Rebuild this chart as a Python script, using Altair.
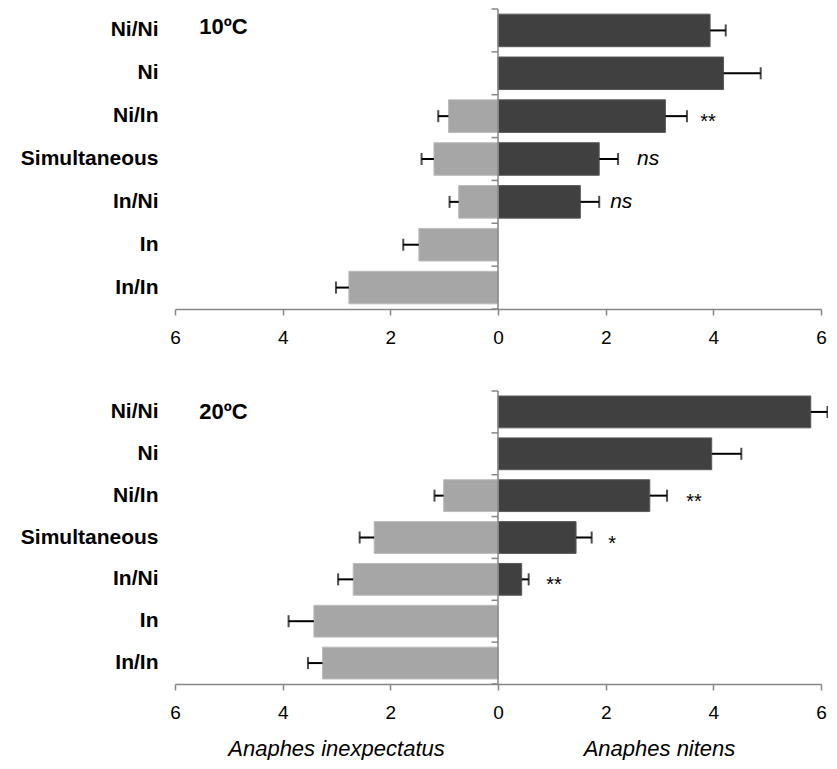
import altair as alt
import pandas as pd

categories = ["Ni/Ni", "Ni", "Ni/In", "Simultaneous", "In/Ni", "In", "In/In"]

# 10 ºC
t10_nitens = [3.94, 4.19, 3.11, 1.88, 1.53, 0, 0]
t10_nitens_err = [0.29, 0.69, 0.40, 0.35, 0.35, 0, 0]
t10_inexp = [0, 0, 0.92, 1.19, 0.73, 1.47, 2.77]
t10_inexp_err = [0, 0, 0.19, 0.23, 0.17, 0.29, 0.24]
t10_ann_cat = ["Ni/In", "Simultaneous", "In/Ni"]
t10_ann_x = [3.90, 2.79, 2.29]
t10_ann_text = ["**", "ns", "ns"]

# 20 ºC
t20_nitens = [5.81, 3.97, 2.82, 1.45, 0.44, 0, 0]
t20_nitens_err = [0.31, 0.55, 0.32, 0.29, 0.13, 0, 0]
t20_inexp = [0, 0, 1.01, 2.30, 2.69, 3.42, 3.26]
t20_inexp_err = [0, 0, 0.17, 0.27, 0.28, 0.47, 0.27]
t20_ann_cat = ["Ni/In", "Simultaneous", "In/Ni"]
t20_ann_x = [3.64, 2.12, 1.04]
t20_ann_text = ["**", "*", "**"]

x_ticks = [-6, -4, -2, 0, 2, 4, 6]
species_titles = ["Anaphes inexpectatus", "Anaphes nitens"]
species_title_x = [-3, 3]

FONT = "Liberation Sans"
AXIS_GRAY = "#868686"
W = 646
EXT = 167


def panel(nit, nit_err, inx, inx_err, ann_cat, ann_x, ann_text, label, label_y, h, bottom):
    rows = []
    for i, c in enumerate(categories):
        if nit[i] > 0:
            rows.append(dict(cat=c, v=nit[i], e=nit[i] + nit_err[i], sp="nitens"))
        if inx[i] > 0:
            rows.append(dict(cat=c, v=-inx[i], e=-(inx[i] + inx_err[i]), sp="inexp"))
    df = pd.DataFrame(rows)
    ann = pd.DataFrame(dict(cat=ann_cat, x=ann_x, t=ann_text))
    ann["italic"] = ann["t"] == "ns"

    xscale = alt.Scale(domain=[-6, 6], nice=False, zero=False)
    xaxis = alt.Axis(
        values=x_ticks, labelExpr="abs(datum.value)", title=None, grid=False,
        tickSize=6, tickColor=AXIS_GRAY, domainColor=AXIS_GRAY, domainWidth=1.5,
        tickWidth=1.5, labelFontSize=19, labelFont=FONT, labelColor="black",
        labelPadding=13, labelFlush=False,
    )
    yscale = alt.Scale(domain=categories, paddingInner=0.24, paddingOuter=0.12)
    yaxis = alt.Axis(
        title=None, domain=False, ticks=False, labelFontSize=21,
        labelFontWeight="bold", labelFont=FONT, labelColor="black",
        labelPadding=17, minExtent=EXT, maxExtent=EXT,
    )
    ycat = alt.Y("cat:N", sort=categories, scale=yscale, axis=yaxis)

    bars = alt.Chart(df).mark_bar(strokeWidth=1).encode(
        x=alt.X("v:Q", scale=xscale, axis=xaxis),
        y=ycat,
        color=alt.Color("sp:N", scale=alt.Scale(domain=["nitens", "inexp"],
                                                range=["#404040", "#a6a6a6"]), legend=None),
        stroke=alt.Stroke("sp:N", scale=alt.Scale(domain=["nitens", "inexp"],
                                                  range=["#5a5a5a", "#bcbcbc"]), legend=None),
    )
    err = alt.Chart(df).mark_rule(color="black", strokeWidth=2).encode(
        x="v:Q", x2="e:Q", y=ycat)
    caps = alt.Chart(df).mark_tick(color="black", thickness=2, size=12).encode(
        x="e:Q", y=ycat)

    star = alt.Chart(ann).transform_filter("!datum.italic").mark_text(
        font=FONT, fontSize=20, color="black", baseline="middle", dy=6).encode(
        x="x:Q", y=ycat, text="t:N")
    ns = alt.Chart(ann).transform_filter("datum.italic").mark_text(
        font=FONT, fontSize=21, fontStyle="italic", color="black", baseline="middle").encode(
        x="x:Q", y=ycat, text="t:N")

    lab = alt.Chart(pd.DataFrame(dict(t=[label]))).mark_text(
        font=FONT, fontSize=22, fontWeight="bold", align="left", baseline="middle",
        color="black").encode(x=alt.datum(-5.55), y=alt.value(label_y), text="t:N")

    main_layers = [bars, err, caps, star, ns, lab]
    if bottom:
        tt = pd.DataFrame(dict(t=species_titles, x=species_title_x))
        titles = alt.Chart(tt).mark_text(
            font=FONT, fontSize=22, fontStyle="italic", color="black",
            baseline="alphabetic").encode(x="x:Q", y=alt.value(h + 72), text="t:N")
        main_layers.append(titles)
    main = alt.layer(*main_layers)

    # zero line with boundary ticks
    bnd = pd.DataFrame(dict(b=list(range(len(categories) + 1))))
    qy = alt.Scale(domain=[0, len(categories)], nice=False, zero=False)
    zero_ticks = alt.Chart(bnd).mark_rule(color=AXIS_GRAY, strokeWidth=1.5).encode(
        x=alt.datum(-0.12), x2=alt.datum(0),
        y=alt.Y("b:Q", scale=qy, axis=None))
    zero_line = alt.Chart(bnd).transform_filter("datum.b == 0").mark_rule(
        color=AXIS_GRAY, strokeWidth=1.5).encode(
        x=alt.datum(0), y=alt.Y("b:Q", scale=qy, axis=None), y2=alt.datum(len(categories)))
    zero = alt.layer(zero_ticks, zero_line)

    return alt.layer(main, zero).resolve_scale(y="independent").properties(width=W, height=h)


top = panel(t10_nitens, t10_nitens_err, t10_inexp, t10_inexp_err,
            t10_ann_cat, t10_ann_x, t10_ann_text, "10ºC", 18, 300, False)
bot = panel(t20_nitens, t20_nitens_err, t20_inexp, t20_inexp_err,
            t20_ann_cat, t20_ann_x, t20_ann_text, "20ºC", 20.5, 293, True)

chart = alt.vconcat(top, bot, spacing=82, bounds="flush").properties(
    padding={"left": 0, "top": 0, "right": -1, "bottom": 0}, background="white"
).configure_view(stroke=None)

chart.save("out.html", embed_options={"renderer": "svg", "actions": False})
